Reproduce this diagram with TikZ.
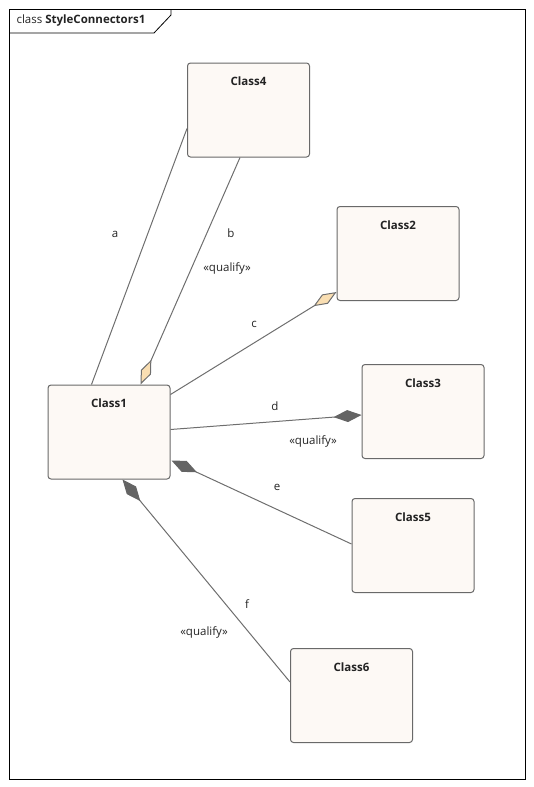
\documentclass[tikz,border=0pt]{standalone}
\usepackage{fontspec}
\setmainfont{Open Sans}
\usetikzlibrary{arrows.meta,calc}
\definecolor{boxfill}{RGB}{253,249,245}
\definecolor{boxline}{RGB}{105,105,105}
\definecolor{connline}{RGB}{110,110,110}
\definecolor{sharedfill}{RGB}{249,222,178}
\definecolor{compfill}{RGB}{100,100,100}
\definecolor{txt}{RGB}{35,35,35}

\begin{document}
\begin{tikzpicture}[x=1pt, y=-1pt, font=\fontsize{11.5}{13}\selectfont, text=txt,
    cls/.style={draw=boxline, fill=boxfill, rounded corners=3pt, line width=1pt,
        minimum width=122pt, minimum height=94pt, inner sep=0pt},
    conn/.style={draw=connline, line width=1pt},
    shared/.style={{Diamond[length=27pt,width=11pt,fill=sharedfill,color=connline]}-},
    comp/.style={{Diamond[length=28pt,width=12pt,fill=compfill,color=compfill]}-}]

    \useasboundingbox (0,0) rectangle (534,787);

    % frame
    \draw[line width=0.8pt] (9,9) rectangle (525,779);
    \draw[line width=0.8pt] (9,33) -- (154,33) -- (171,15) -- (171,9);
    \draw(13,21) node[anchor=west] (title) {class \textbf{StyleConnectors1}};

    % classes
    \draw(109,432) node[cls, label={[anchor=north, yshift=-11pt]north:\textbf{Class1}}] (c1) {};
    \draw(398,253.5) node[cls, label={[anchor=north, yshift=-11pt]north:\textbf{Class2}}] (c2) {};
    \draw(423,411.5) node[cls, label={[anchor=north, yshift=-11pt]north:\textbf{Class3}}] (c3) {};
    \draw(248.5,110) node[cls, label={[anchor=north, yshift=-11pt]north:\textbf{Class4}}] (c4) {};
    \draw(413,545.5) node[cls, label={[anchor=north, yshift=-11pt]north:\textbf{Class5}}] (c5) {};
    \draw(351.5,695.5) node[cls, label={[anchor=north, yshift=-11pt]north:\textbf{Class6}}] (c6) {};

    % connectors
    \draw[conn] ($(c1.north west)+(44,0)$) -- ($(c4.north west)+(0,66)$);
    \draw[conn, shared] ($(c1.north west)+(93,0)$) -- ($(c4.south west)+(53,0)$);
    \draw[conn, shared] ($(c2.south west)+(0,-9)$) -- ($(c1.north east)+(0,10)$);
    \draw[conn, comp] ($(c3.north west)+(0,51)$) -- ($(c1.north east)+(0,45)$);
    \draw[conn, comp] ($(c1.south east)+(1,-19)$) -- ($(c5.north west)+(0,46)$);
    \draw[conn, comp] ($(c1.south west)+(75,0)$) -- ($(c6.north west)+(0,34)$);

    % labels
    \draw(115,234) node (la) {a};
    \draw(231,233) node (lb) {b};
    \draw(227,268) node (qb) {«qualify»};
    \draw(254,324) node (lc) {c};
    \draw(275,406) node (ld) {d};
    \draw(313,441) node (qd) {«qualify»};
    \draw(277,487) node (le) {e};
    \draw(247,604) node (lf) {f};
    \draw(204,632) node (qf) {«qualify»};

\end{tikzpicture}
\end{document}
